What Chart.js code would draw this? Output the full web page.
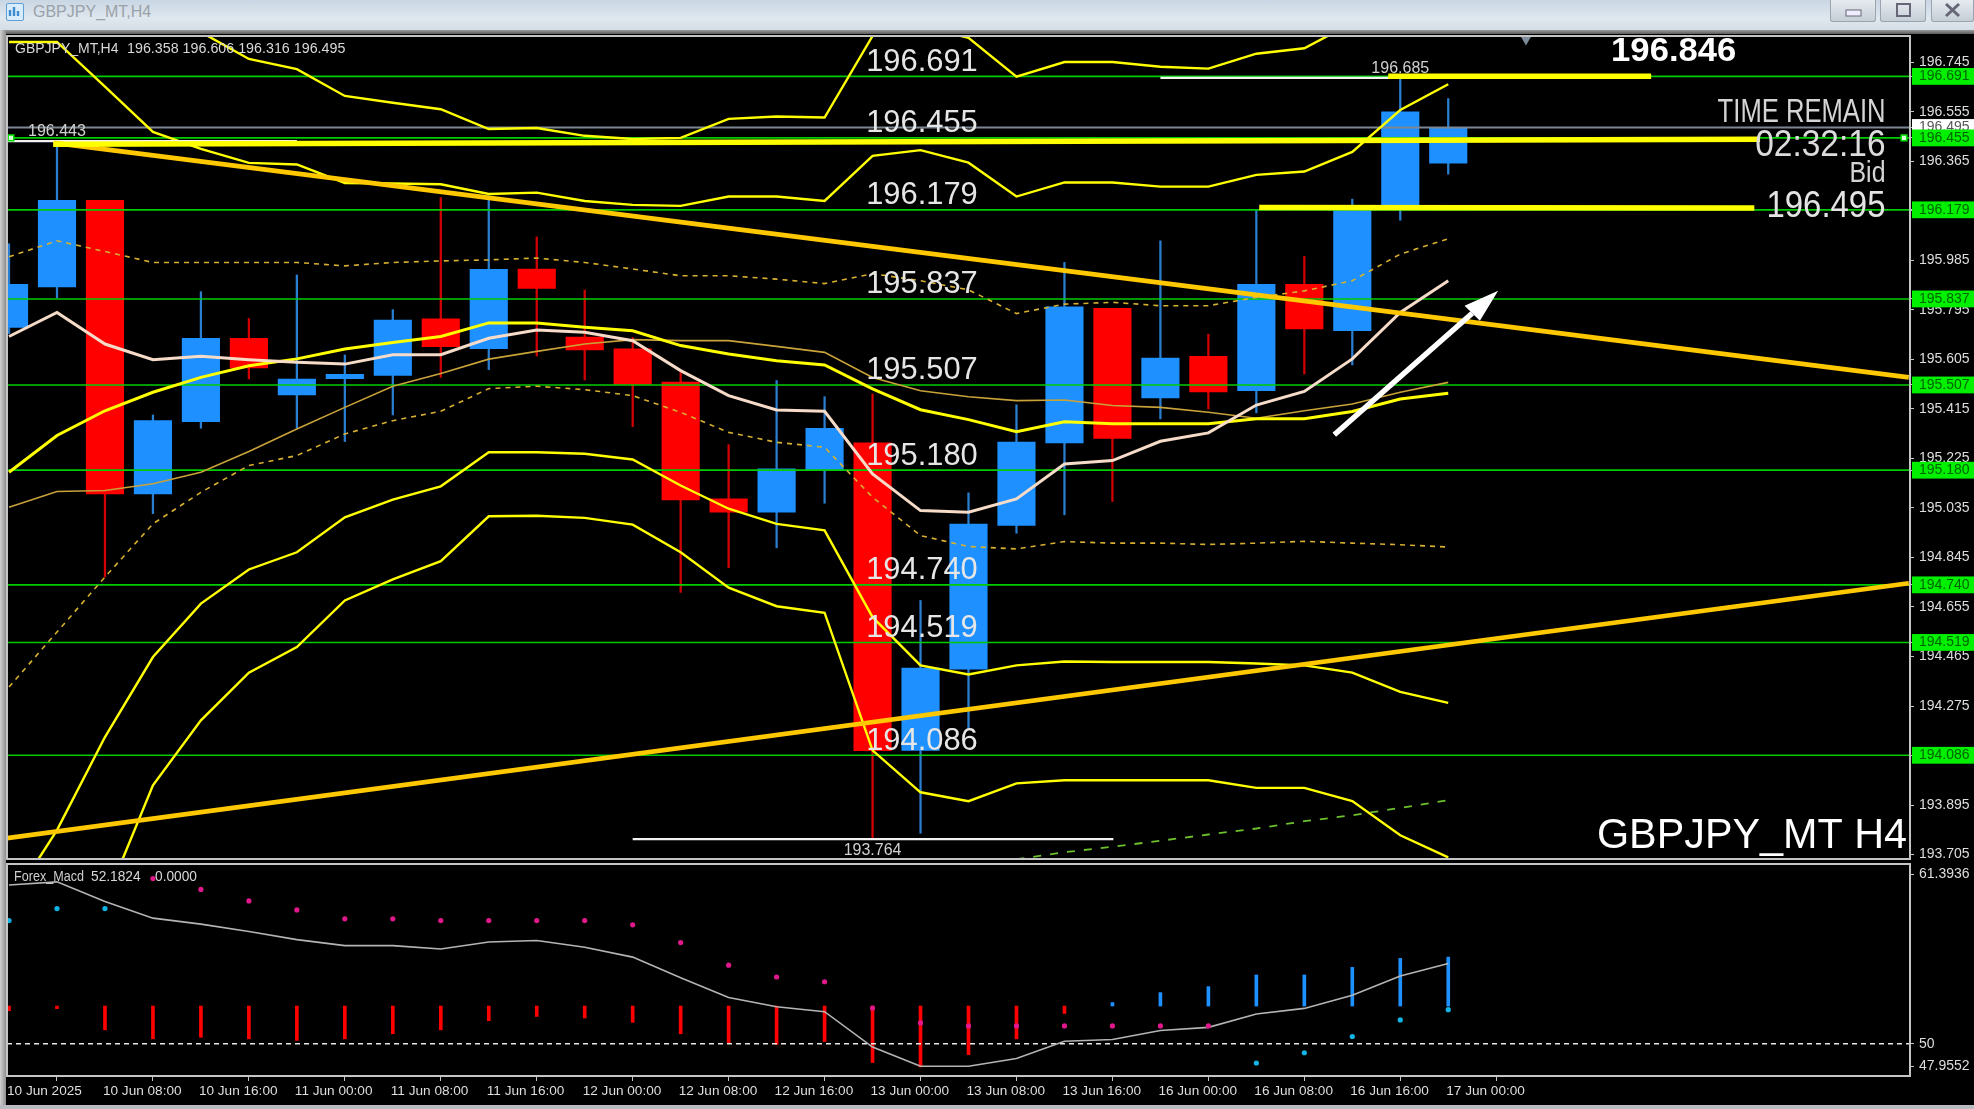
<!DOCTYPE html>
<html><head><meta charset="utf-8"><title>GBPJPY_MT,H4</title>
<script src="https://cdn.jsdelivr.net/npm/chart.js@4"></script>
<style>
html,body{margin:0;padding:0;background:#000;width:1974px;height:1109px;overflow:hidden;font-family:"Liberation Sans",sans-serif}
#bar{position:absolute;left:0;top:0;width:1974px;height:30px;background:linear-gradient(#c9d6e3,#dfe7ef 60%,#d5dde5);}
#bar2{position:absolute;left:0;top:30px;width:1974px;height:4px;background:linear-gradient(#9a9a9a,#5c5c5c)}
#title{position:absolute;left:33px;top:2px;font-size:16px;line-height:20px;color:#9aa1a8}
#icon{position:absolute;left:6px;top:3px;width:18px;height:18px;border-radius:2px;background:#d9ecfb;border:1px solid #5e9ed6;box-sizing:border-box}
.btn{position:absolute;top:0;height:22px;background:linear-gradient(#e6ebf0,#c6ced6);border:1px solid #9aa4ae;border-top:0;border-radius:0 0 3px 3px;box-sizing:border-box}
#g{position:absolute;left:0;top:30px;width:6px;height:1079px;background:linear-gradient(90deg,#d0d0d0,#8e8e8e)}
#b{position:absolute;left:0;top:1105px;width:1974px;height:4px;background:#b8bcc0}
canvas{position:absolute;left:0}
#c1{top:30px}#c2{top:860px}
</style></head><body>
<div id="bar"></div><div id="bar2"></div>
<div id="icon"><svg width="16" height="16"><path d="M3 12V6M7 12V3M11 12V7" stroke="#3c8ad0" stroke-width="2.4"/></svg></div><div id="title">GBPJPY_MT,H4</div>
<div class="btn" style="left:1830px;width:46px"><svg width="44" height="21"><rect x="15" y="10" width="15" height="6" fill="#eef" stroke="#667"/></svg></div>
<div class="btn" style="left:1880px;width:46px"><svg width="44" height="21"><rect x="16" y="4" width="13" height="12" fill="none" stroke="#667" stroke-width="2"/></svg></div>
<div class="btn" style="left:1931px;width:43px"><svg width="41" height="21"><path d="M14 4L27 16M27 4L14 16" stroke="#667" stroke-width="3"/></svg></div>
<div id="g"></div><div id="b"></div>
<canvas id="c1" width="1974" height="835"></canvas>
<canvas id="c2" width="1974" height="249"></canvas>
<script>
const symbolHeader = "GBPJPY_MT,H4";
const symbolCaption = "GBPJPY_MT H4";
const indicatorName = "Forex_Macd";
const indicatorValues = ["52.1824","0.0000"];
const timeLabels = ["10 Jun 2025","10 Jun 08:00","10 Jun 16:00","11 Jun 00:00","11 Jun 08:00","11 Jun 16:00","12 Jun 00:00","12 Jun 08:00","12 Jun 16:00","13 Jun 00:00","13 Jun 08:00","13 Jun 16:00","16 Jun 00:00","16 Jun 08:00","16 Jun 16:00","17 Jun 00:00"];
const priceTicks = [196.745,196.555,196.365,196.175,195.985,195.795,195.605,195.415,195.225,195.035,194.845,194.655,194.465,194.275,194.085,193.895,193.705];
const levels = [196.691,196.455,196.179,195.837,195.507,195.180,194.740,194.519,194.086];
const bid = 196.495;
const priceRange = [193.688,196.846];
const candleOpen = [195.728,195.883,196.215,195.089,195.366,195.686,195.469,195.531,195.544,195.761,195.646,195.952,195.691,195.646,195.518,195.070,195.019,195.178,195.285,194.105,194.416,194.968,195.285,195.801,195.457,195.617,195.485,195.893,195.715,196.194,196.358];
const candleHigh = [196.049,196.443,196.215,195.392,195.865,195.762,195.929,195.622,195.796,196.226,196.233,196.075,195.871,195.689,195.555,195.278,195.524,195.462,195.472,194.680,195.093,195.431,195.977,195.801,196.060,195.702,196.178,196.001,196.220,196.685,196.606];
const candleLow = [195.704,195.841,194.770,195.013,195.341,195.530,195.341,195.290,195.392,195.536,195.566,195.618,195.526,195.347,194.711,194.806,194.882,195.053,193.764,193.787,194.190,194.938,195.009,195.060,195.377,195.415,195.400,195.549,195.584,196.139,196.316];
const candleClose = [195.893,196.215,195.089,195.370,195.686,195.572,195.530,195.548,195.756,195.654,195.951,195.877,195.641,195.509,195.066,195.019,195.185,195.341,194.104,194.421,194.973,195.288,195.807,195.302,195.610,195.480,195.893,195.722,196.183,196.555,196.495];
const bandOuterUpper = [null,null,null,null,196.861,196.758,196.719,196.616,196.590,196.565,196.489,196.493,196.463,196.451,196.455,196.528,196.537,196.533,196.846,196.884,196.839,196.690,196.746,196.746,196.728,196.721,196.778,196.799,196.896,null,null];
const bandInnerUpper = [196.823,196.823,196.652,196.478,196.413,196.359,196.353,196.282,196.280,196.277,196.240,196.245,196.213,196.198,196.194,196.230,196.230,196.213,196.386,196.408,196.360,196.230,196.284,196.284,196.268,196.268,196.313,196.326,196.401,196.562,196.661];
const emaYellow = [195.172,195.313,195.408,195.479,195.536,195.581,195.607,195.645,195.670,195.693,195.745,195.745,195.728,195.715,195.658,195.626,195.600,195.584,195.492,195.412,195.374,195.328,195.366,195.358,195.358,195.358,195.377,195.377,195.405,195.453,195.475];
const maGold = [195.038,195.098,195.102,195.128,195.172,195.252,195.338,195.421,195.502,195.551,195.606,195.636,195.664,195.681,195.677,195.677,195.655,195.632,195.536,195.485,195.462,195.447,195.449,195.428,195.421,195.402,195.379,195.408,195.434,195.479,195.517];
const middleBand = [195.693,195.785,195.664,195.604,195.617,195.604,195.594,195.587,195.623,195.623,195.686,195.718,195.709,195.677,195.562,195.466,195.411,195.406,195.166,195.025,195.019,195.070,195.204,195.217,195.291,195.323,195.430,195.482,195.607,195.785,195.907];
const dashUpper = [195.999,196.060,196.019,195.977,195.977,195.977,195.977,195.964,195.977,195.983,195.987,195.994,195.977,195.952,195.926,195.926,195.913,195.896,195.934,195.907,195.872,195.781,195.817,195.824,195.811,195.811,195.843,195.868,195.907,196.009,196.068];
const dashLower = [194.348,194.559,194.770,194.974,195.095,195.198,195.236,195.319,195.370,195.406,195.493,195.502,195.489,195.466,195.402,195.325,195.287,195.268,195.076,194.929,194.887,194.878,194.906,194.900,194.900,194.895,194.900,194.907,194.900,194.894,194.885];
const bandInnerLower = [193.511,193.799,194.156,194.463,194.668,194.799,194.865,194.999,195.067,195.118,195.249,195.249,195.243,195.221,195.121,195.032,194.974,194.949,194.616,194.431,194.396,194.431,194.446,194.444,194.444,194.444,194.438,194.431,194.403,194.329,194.287];
const bandOuterLower = [null,null,193.523,193.971,194.220,194.403,194.501,194.680,194.761,194.831,195.003,195.005,194.997,194.971,194.865,194.729,194.658,194.633,194.105,193.944,193.910,193.978,193.990,193.990,193.990,193.990,193.961,193.961,193.910,193.779,193.694];
const greenDash = [null,null,null,null,null,null,null,null,null,null,null,null,null,null,null,null,null,null,null,null,null,193.687,193.714,193.735,193.758,193.782,193.805,193.833,193.856,193.884,193.914];
const trendDownX = [0.94,39.6], trendDownY = [196.436,195.536];
const trendUpX = [-0.04,39.6], trendUpY = [193.768,194.746];
const thickTopX = [28.75,34.23], thickTopY = [196.692,196.692];
const thickMidX = [0.92,36.5], thickMidY = [196.431,196.450];
const thickLowX = [26.06,36.38], thickLowY = [196.188,196.186];
const highLowX = [[-0.04,6],[13,23.02],[24,29]], highLowY = [196.443,193.764,196.685];
const arrowX = [27.625,30.5], arrowY = [195.316,195.782];
const arrowHeadX = [31.04,30.34,30.66], arrowHeadY = [195.868,195.811,195.753];
const macdLine = [60.06,60.26,59.01,57.96,57.58,57.12,56.60,56.22,56.22,56.01,56.45,56.54,56.12,55.49,54.19,52.93,52.34,52.03,49.79,48.57,48.57,49.06,50.16,50.27,50.84,51.04,51.89,52.24,53.08,54.29,55.09];
const macdBars = [52.09,52.22,50.88,50.31,50.41,50.31,50.21,50.31,50.63,50.88,51.46,51.73,51.63,51.36,50.63,50.04,49.96,50.14,48.81,48.53,49.31,50.31,51.92,52.61,53.24,53.62,54.36,54.36,54.84,55.41,55.49];
const macdBarBase = 52.39;
const macdDots = [57.81,58.57,58.57,60.47,59.78,59.05,58.48,57.92,57.92,57.81,57.81,57.81,57.81,57.54,56.41,54.98,54.23,53.93,52.26,51.32,51.13,51.13,51.13,51.13,51.13,51.13,48.78,49.43,50.46,51.51,52.16];
const subRange = [47.9552,61.3936];
const subTickValues = [60.72,50,48.58], subTickLabels = ["61.3936","50","47.9552"];

const X0=-0.042, X1=39.625;
const UP="#1e90ff", DOWN="#ff0000", UPW="#2a7fd0", DOWNW="#d40000";
const idx=candleOpen.map((_,i)=>i);
const pts=(ys)=>ys.map((y,i)=>({x:i,y}));
const seg=(xs,ys)=>xs.map((x,i)=>({x,y:ys[i]}));
const lineDs=(data,color,width,order,extra)=>Object.assign({type:'line',data,borderColor:color,borderWidth:width,pointRadius:0,tension:0,order,spanGaps:false},extra||{});

function txt(ctx,s,x,y,size,align,sx,color,weight){
  ctx.save();ctx.font=(weight||'')+' '+size+'px "Liberation Sans"';ctx.fillStyle=color||'#e6e6e6';
  ctx.textBaseline='alphabetic';ctx.textAlign=align;ctx.translate(x,y);ctx.scale(sx,1);ctx.fillText(s,0,0);ctx.restore();
}
const frame={id:'frame',afterDraw(c){const a=c.chartArea,x=c.ctx;x.save();x.strokeStyle='#c4c4c4';x.lineWidth=2;x.strokeRect(a.left,a.top,a.right-a.left,a.bottom-a.top);x.restore();}};
const texts={id:'texts',afterDatasetsDraw(c){
  const x=c.ctx,sx=c.scales.x,sy=c.scales.y,a=c.chartArea;
  x.save();x.beginPath();x.moveTo(sx.getPixelForValue(arrowHeadX[0]),sy.getPixelForValue(arrowHeadY[0]));
  x.lineTo(sx.getPixelForValue(arrowHeadX[1]),sy.getPixelForValue(arrowHeadY[1]));
  x.lineTo(sx.getPixelForValue(arrowHeadX[2]),sy.getPixelForValue(arrowHeadY[2]));x.closePath();x.fillStyle='#fff';x.fill();x.restore();
  levels.forEach(l=>txt(x,l.toFixed(3),sx.getPixelForValue(19.03),sy.getPixelForValue(l)-5.5,32,'center',0.965));
  txt(x,symbolHeader,a.left+8,23,14,'left',1,'#d8d8d8');
  const ohlc=[candleOpen[30],candleHigh[30],candleLow[30],candleClose[30]].map(v=>v.toFixed(3)).join(' ');
  txt(x,ohlc,a.left+120,23,14,'left',1.02,'#d8d8d8');
  txt(x,highLowY[0].toFixed(3),sx.getPixelForValue(1),sy.getPixelForValue(highLowY[0])-5,16,'center',1,'#d0d0d0');
  txt(x,highLowY[1].toFixed(3),sx.getPixelForValue(18),sy.getPixelForValue(highLowY[1])+16,16,'center',1,'#d0d0d0');
  txt(x,highLowY[2].toFixed(3),sx.getPixelForValue(29),sy.getPixelForValue(highLowY[2])-5,16,'center',1,'#d0d0d0');
  txt(x,priceRange[1].toFixed(3),sx.getPixelForValue(34.7),31,33,'center',1.05,'#ffffff','bold');
  const r=a.right-24.5;
  txt(x,"TIME REMAIN",r,91.5,33,'right',0.776,'#d4d4d4');
  txt(x,"02:32:16",r,126,36,'right',0.93,'#dcdcdc');
  txt(x,"Bid",r,151.5,30,'right',0.83,'#d4d4d4');
  txt(x,bid.toFixed(3),r,186.5,37,'right',0.89,'#e4e4e4');
  txt(x,symbolCaption,a.right-3,818,42,'right',0.984,'#ffffff');
}};
const wicks={type:'bar',data:idx.map(i=>({x:i,y:[candleLow[i],candleHigh[i]]})),backgroundColor:idx.map(i=>candleClose[i]>=candleOpen[i]?UPW:DOWNW),barThickness:1.6,grouped:false,order:101,clip:0};
const bodies={type:'bar',data:idx.map(i=>({x:i,y:[candleOpen[i],candleClose[i]]})),backgroundColor:idx.map(i=>candleClose[i]>=candleOpen[i]?UP:DOWN),barThickness:37.5,grouped:false,order:100,clip:0};
const lvl=levels.map(l=>lineDs([{x:X0,y:l},{x:X1,y:l}],'#00cc00',1.6,60));
const mainDatasets=[wicks,bodies,
  lineDs([{x:X0,y:bid},{x:X1,y:bid}],'#7c8794',2,70),
  ...lvl,
  lineDs(pts(maGold),'#c9a23a',1.6,50),
  lineDs(pts(dashUpper),'#d8b030',1.6,50,{borderDash:[5,5]}),
  lineDs(pts(dashLower),'#d8b030',1.6,50,{borderDash:[5,5]}),
  lineDs(pts(greenDash),'#6cc02c',1.8,50,{borderDash:[8,9]}),
  lineDs(pts(bandOuterUpper),'#ffff00',2.4,49),
  lineDs(pts(bandInnerUpper),'#ffff00',2.4,49),
  lineDs(pts(bandInnerLower),'#ffff00',2.4,49),
  lineDs(pts(bandOuterLower),'#ffff00',2.4,49),
  lineDs(pts(emaYellow),'#ffff00',3,48),
  lineDs(pts(middleBand),'#f6dcc8',3,47),
  ...highLowX.map((xs,i)=>lineDs(seg(xs,[highLowY[i],highLowY[i]]),'#f2f2f2',2.2,46)),
  lineDs(seg(trendDownX,trendDownY),'#ffc800',4.6,40),
  lineDs(seg(trendUpX,trendUpY),'#ffc800',4.6,40),
  lineDs(seg(thickTopX,thickTopY),'#ffff00',5.5,39),
  lineDs(seg(thickMidX,thickMidY),'#ffff00',5.5,39),
  lineDs(seg(thickLowX,thickLowY),'#ffff00',5.5,39),
  lineDs(seg(arrowX,arrowY),'#ffffff',5.5,38),
  lineDs([{x:39.5,y:levels[1]},{x:0.04,y:levels[1]}],'rgba(0,0,0,0)',0,37,{showLine:false,pointRadius:4,pointStyle:'rect',pointBackgroundColor:'#d8ffd8',pointBorderColor:'#00e000',pointBorderWidth:1.5}),
  lineDs([{x:31.62,y:196.833}],'rgba(0,0,0,0)',0,37,{showLine:false,pointRadius:6,pointStyle:'triangle',rotation:180,pointBackgroundColor:'#7d8a98',pointBorderWidth:0})
];
const levelSet=new Set(levels);
new Chart(document.getElementById('c1'),{
  type:'bar',
  data:{datasets:mainDatasets},
  options:{responsive:false,devicePixelRatio:1,animation:false,
    layout:{padding:{left:7,top:5,right:0,bottom:0}},
    plugins:{legend:{display:false},tooltip:{enabled:false}},
    scales:{
      x:{type:'linear',min:X0,max:X1,display:false,offset:false},
      y:{type:'linear',position:'right',min:priceRange[0],max:priceRange[1],
        afterBuildTicks(s){s.ticks=[...priceTicks,bid,...levels].map(value=>({value}));},
        afterFit(s){s.width=64;s.paddingTop=0;s.paddingBottom=0;s.paddingLeft=0;s.paddingRight=0;},
        border:{display:false},
        grid:{drawOnChartArea:false,drawTicks:true,tickLength:4,color:'#c4c4c4'},
        ticks:{autoSkip:false,includeBounds:false,padding:5,font:{family:'"Liberation Sans"',size:14},
          callback:v=>v.toFixed(3),
          color:c=>levelSet.has(c.tick.value)?'#006400':(c.tick.value===bid?'#555':'#dedede'),
          showLabelBackdrop:c=>levelSet.has(c.tick.value)||c.tick.value===bid,
          backdropColor:c=>c.tick.value===bid?'#ffffff':'#00f000',
          backdropPadding:{left:7,right:5,top:0,bottom:0}}
      }
    }
  },
  plugins:[texts,frame]
});
const subTexts={id:'subTexts',afterDatasetsDraw(c){
  const x=c.ctx,a=c.chartArea,b=a.top+17;
  txt(x,indicatorName,a.left+7,b,14,'left',0.9,'#cfcfcf');
  txt(x,indicatorValues[0],91,b,14,'left',0.98,'#d8d8d8');
  txt(x,indicatorValues[1],155,b,14,'left',0.98,'#d8d8d8');
}};
new Chart(document.getElementById('c2'),{
  type:'bar',
  data:{datasets:[
    {type:'bar',data:idx.map(i=>({x:i,y:[macdBarBase,macdBars[i]]})),backgroundColor:idx.map(i=>macdBars[i]>macdBarBase?UP:DOWN),barThickness:3,grouped:false,order:20,clip:0},
    lineDs([{x:X0,y:50},{x:X1,y:50}],'#e8e8e8',1.6,10,{borderDash:[5,4]}),
    lineDs(pts(macdLine),'#b4b4b4',1.6,5),
    lineDs(pts(macdDots),'rgba(0,0,0,0)',0,4,{showLine:false,pointRadius:2.6,pointBorderWidth:0,pointStyle:'circle',
      pointBackgroundColor:idx.map(i=>(i<3||i>25)?'#12b4e6':'#e0188c')})
  ]},
  options:{responsive:false,devicePixelRatio:1,animation:false,
    layout:{padding:{left:7,top:2,right:0,bottom:0}},
    plugins:{legend:{display:false},tooltip:{enabled:false}},
    scales:{
      x:{type:'linear',min:X0,max:X1,offset:false,
        afterBuildTicks(s){s.ticks=timeLabels.map((_,i)=>({value:i*2}));},
        afterFit(s){s.height=33;s.paddingLeft=0;s.paddingRight=0;},
        border:{display:false},
        grid:{drawOnChartArea:false,drawTicks:true,tickLength:5,color:'#c4c4c4'},
        ticks:{autoSkip:false,includeBounds:false,maxRotation:0,minRotation:0,align:'start',padding:2,labelOffset:-2,color:'#dedede',
          font:{family:'"Liberation Sans"',size:13.6},
          callback:(v)=>timeLabels[Math.round(v/2)]}
      },
      y:{type:'linear',position:'right',min:subRange[0],max:subRange[1],
        afterBuildTicks(s){s.ticks=subTickValues.map(value=>({value}));},
        afterFit(s){s.width=64;s.paddingTop=0;s.paddingBottom=0;s.paddingLeft=0;s.paddingRight=0;},
        border:{display:false},
        grid:{drawOnChartArea:false,drawTicks:true,tickLength:4,color:'#c4c4c4'},
        ticks:{autoSkip:false,includeBounds:false,padding:5,color:'#dedede',font:{family:'"Liberation Sans"',size:14},
          callback:(v)=>subTickLabels[subTickValues.indexOf(v)]}
      }
    }
  },
  plugins:[subTexts,frame]
});
</script></body></html>
